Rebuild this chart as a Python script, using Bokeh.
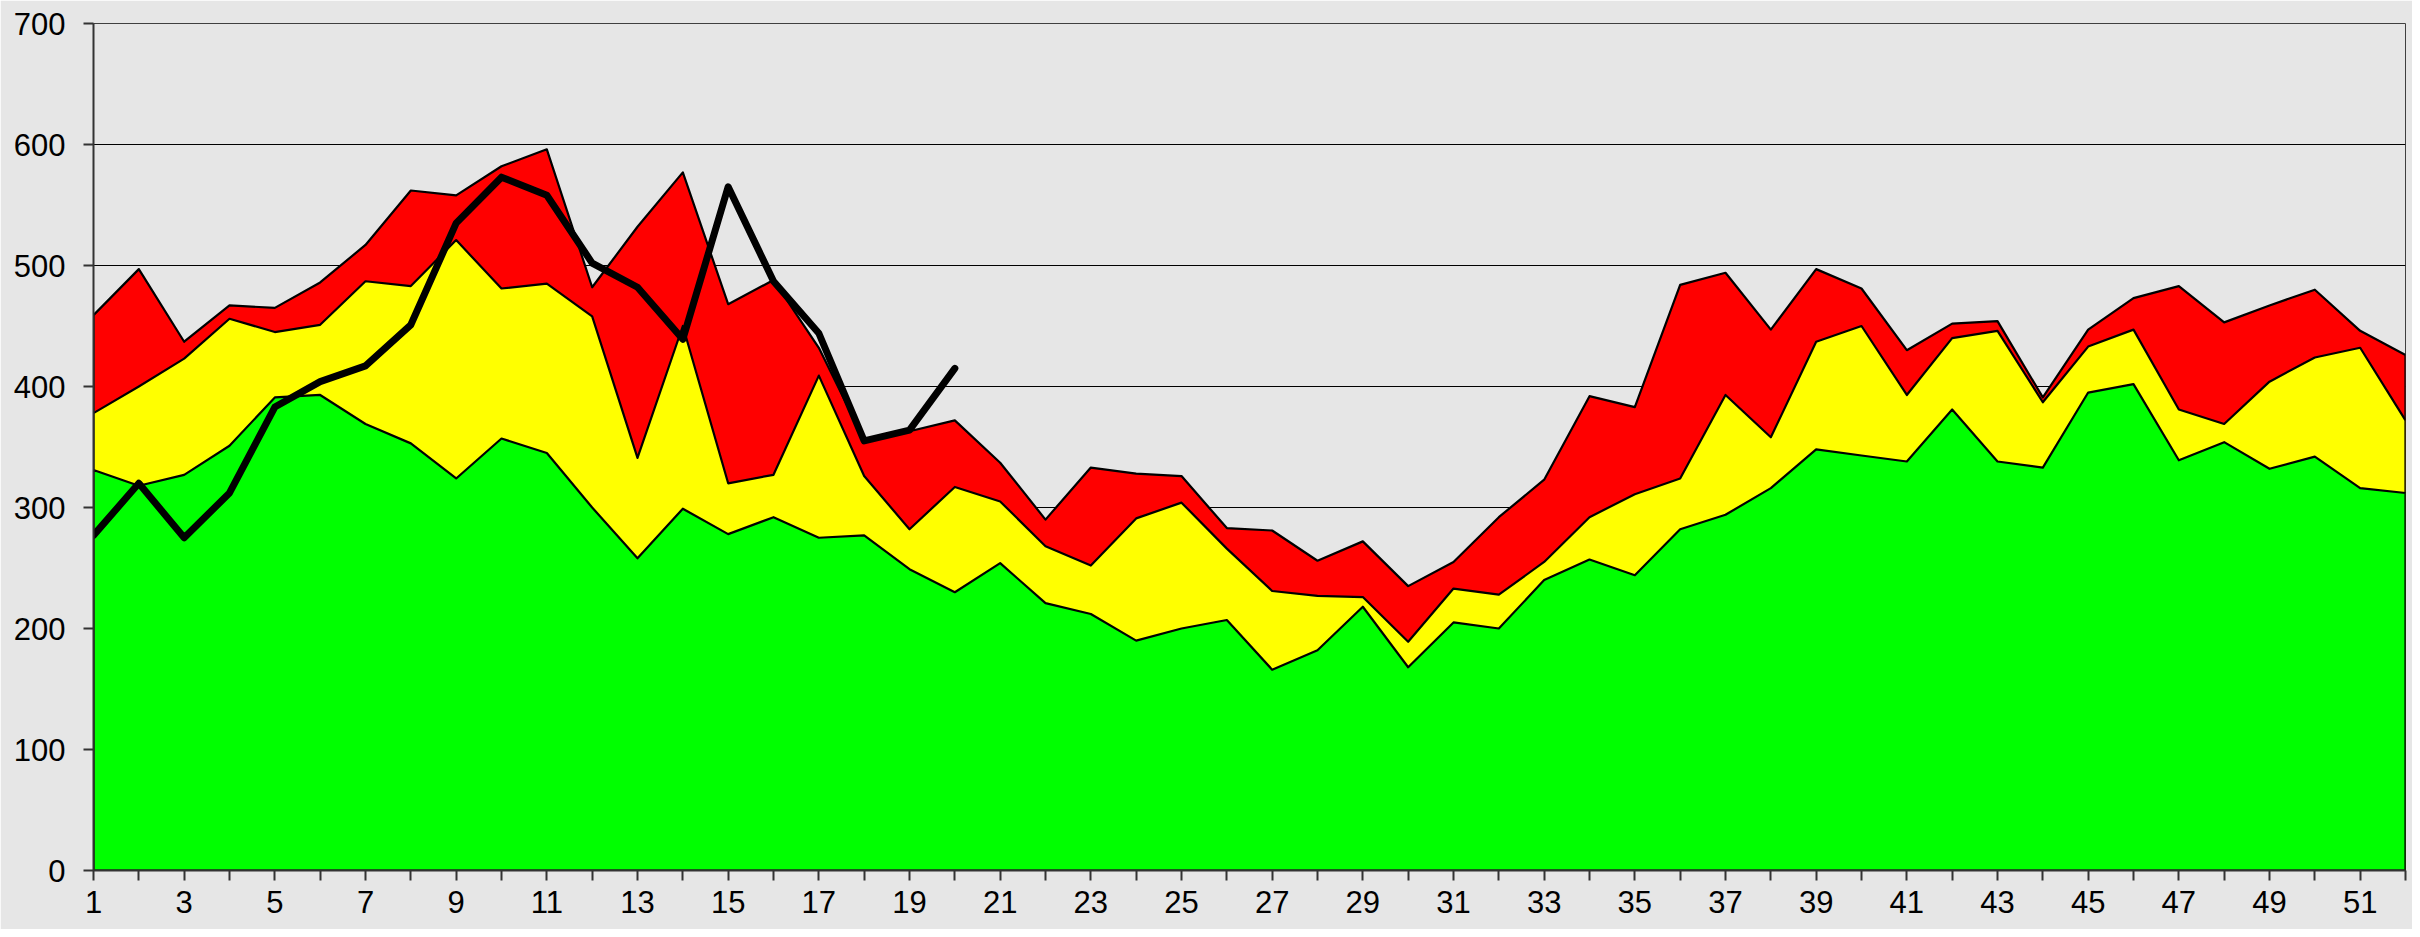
from bokeh.plotting import figure
from bokeh.models import Range1d, FixedTicker
from bokeh.embed import file_html
from bokeh.resources import INLINE

weeks = list(range(1, 53))
green = [331, 318, 327, 351, 391, 393, 369, 353, 324, 357, 345, 300, 258, 299, 278, 292, 275, 277, 249, 230,
         254, 221, 212, 190, 200, 207, 166, 182, 218, 168, 205, 200, 240, 257, 244, 282, 294, 316, 348, 343,
         338, 381, 338, 333, 395, 402, 339, 354, 332, 342, 316, 312]
yellow = [378, 400, 423, 456, 445, 451, 487, 483, 521, 481, 485, 458, 341, 450, 320, 327, 409, 326, 282, 317,
          305, 268, 252, 291, 304, 266, 231, 227, 226, 189, 233, 228, 255, 292, 311, 324, 393, 358, 437, 450,
          393, 440, 446, 387, 433, 447, 381, 369, 404, 424, 432, 372]
red = [459, 497, 437, 467, 465, 486, 517, 562, 558, 582, 596, 482, 532, 577, 468, 488, 432, 356, 363, 372,
       337, 290, 333, 328, 326, 283, 281, 256, 272, 235, 255, 292, 323, 392, 383, 484, 494, 447, 497, 481,
       430, 452, 454, 391, 447, 473, 483, 453, 467, 480, 446, 426]
black_weeks = list(range(1, 21))
black = [277, 320, 275, 312, 383, 404, 417, 451, 535, 573, 558, 502, 482, 439, 565, 487, 444, 355, 364, 415]

y_ticks = [0, 100, 200, 300, 400, 500, 600, 700]
x_major = [w for w in weeks if w % 2 == 1]
x_minor = [w for w in weeks if w % 2 == 0]

BG = "#e6e6e6"
FONT = "Liberation Sans"

p = figure(output_backend="svg", toolbar_location=None,
           frame_width=2312, frame_height=847,
           min_border_left=93, min_border_right=7, min_border_top=23, min_border_bottom=59,
           x_range=Range1d(1, 52), y_range=Range1d(0, 700))
p.background_fill_color = BG
p.border_fill_color = BG
p.outline_line_color = "#404040"
p.outline_line_width = 1

for vals, col in ((red, "#ff0000"), (yellow, "#ffff00"), (green, "#00ff00")):
    xs = weeks + [weeks[-1], weeks[0]]
    ys = vals + [0, 0]
    p.patch(xs, ys, fill_color=col, line_color="black", line_width=2.2, line_join="round")

p.line(black_weeks, black, line_color="black", line_width=7, line_join="round", line_cap="round")

p.xgrid.visible = False
p.ygrid.ticker = FixedTicker(ticks=y_ticks)
p.ygrid.grid_line_color = "black"
p.ygrid.grid_line_width = 1

p.xaxis.ticker = FixedTicker(ticks=x_major, minor_ticks=x_minor)
p.yaxis.ticker = FixedTicker(ticks=y_ticks)
for ax in (p.xaxis[0], p.yaxis[0]):
    ax.axis_line_color = "#333333"
    ax.axis_line_width = 2
    ax.major_tick_line_color = "#333333"
    ax.minor_tick_line_color = "#333333"
    ax.major_tick_line_width = 2
    ax.minor_tick_line_width = 2
    ax.major_tick_in = 0
    ax.major_tick_out = 10
    ax.minor_tick_in = 0
    ax.major_label_text_font = FONT
    ax.major_label_text_font_size = "31px"
    ax.major_label_text_color = "black"
p.xaxis.minor_tick_out = 10
p.yaxis.minor_tick_out = 0
p.xaxis.major_label_standoff = 10
p.yaxis.major_label_standoff = 18

open("out.html", "w").write(file_html(p, INLINE))
